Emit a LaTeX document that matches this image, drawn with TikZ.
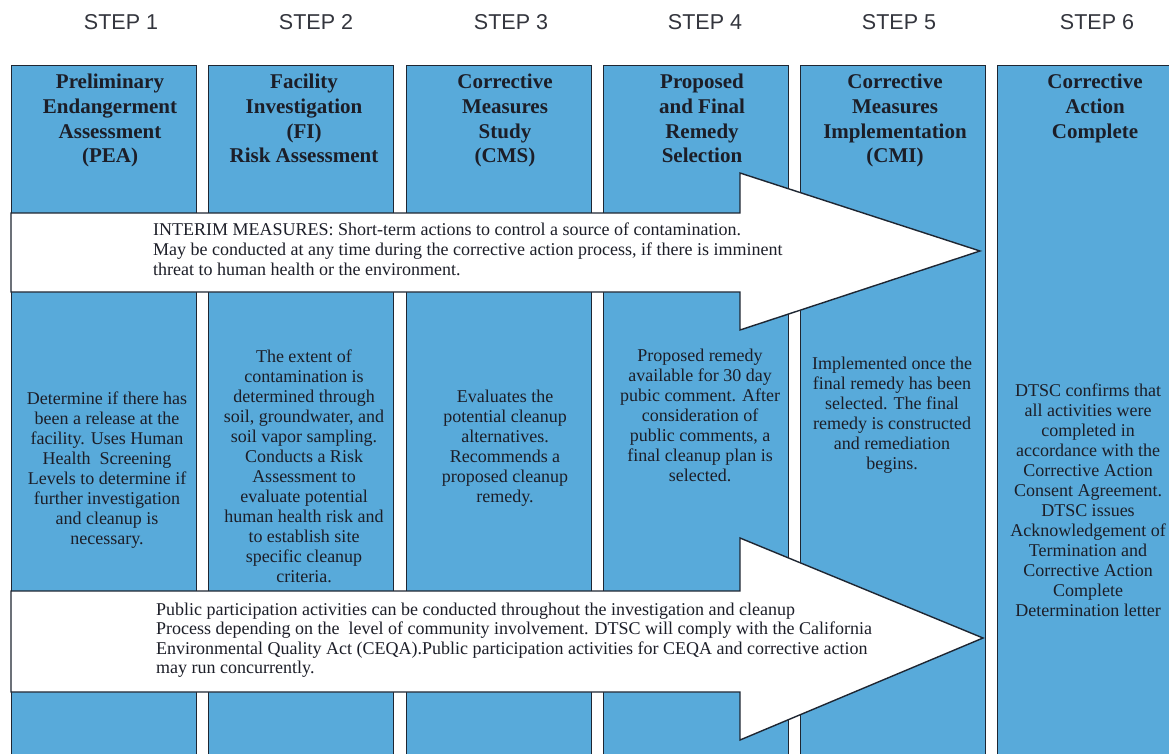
\documentclass[tikz,border=0pt]{standalone}
\usepackage{fontspec}
\setmainfont{Liberation Serif}
\newfontfamily\stepfont{Liberation Sans}
\definecolor{colblue}{RGB}{88,170,218}
\definecolor{edge}{RGB}{30,38,50}
\definecolor{ink}{RGB}{28,30,40}
\tikzset{
  colbox/.style={draw=edge, line width=1.2pt, fill=colblue, minimum width=185pt, minimum height=720pt, anchor=north west, inner sep=0pt},
  steplabel/.style={font=\stepfont\fontsize{21.5}{24}\selectfont, text=ink!90},
  headtext/.style={font=\bfseries\fontsize{21}{24.7}\selectfont, text=ink, align=center, anchor=north, inner sep=0pt},
  bodytext/.style={font=\fontsize{18}{20}\selectfont, text=ink, align=center, anchor=north, inner sep=0pt},
  arrowtext/.style={font=\fontsize{18}{20}\selectfont, text=ink, align=left, anchor=north west, inner sep=0pt},
  bigarrow/.style={draw=edge, line width=1.4pt, fill=white, line join=miter}
}
\begin{document}
\begin{tikzpicture}[x=1pt,y=-1pt]
\useasboundingbox (0,0) rectangle (1169,754);
\fill[white] (0,0) rectangle (1169,754);
\begin{scope}
\clip (0,0) rectangle (1169,754);
% columns
\node[colbox] (c1) at (11,65) {};
\node[colbox] (c2) at (208.25,65) {};
\node[colbox] (c3) at (405.5,65) {};
\node[colbox] (c4) at (602.75,65) {};
\node[colbox] (c5) at (800,65) {};
\node[colbox] (c6) at (997.25,65) {};
\end{scope}

% step labels
\node[steplabel] (s1) at (121,22) {STEP 1};
\node[steplabel] (s2) at (316,22) {STEP 2};
\node[steplabel] (s3) at (511,22) {STEP 3};
\node[steplabel] (s4) at (705,22) {STEP 4};
\node[steplabel] (s5) at (899,22) {STEP 5};
\node[steplabel] (s6) at (1097,22) {STEP 6};

% headings
\node[headtext] (h1) at (110,74) {Preliminary\\Endangerment\\Assessment\\(PEA)};
\node[headtext] (h2) at (304,74) {Facility\\Investigation\\(FI)\\Risk Assessment};
\node[headtext] (h3) at (505,74) {Corrective\\Measures\\Study\\(CMS)};
\node[headtext] (h4) at (702,74) {Proposed\\and Final\\Remedy\\Selection};
\node[headtext] (h5) at (895,74) {Corrective\\Measures\\Implementation\\(CMI)};
\node[headtext] (h6) at (1095,74) {Corrective\\Action\\Complete};

% body texts
\node[bodytext] (b1) at (107,392) {Determine if there has\\been a release at the\\facility. Uses Human\\Health\ \ Screening\\Levels to determine if\\further investigation\\and cleanup is\\necessary.};
\node[bodytext] (b2) at (304,350) {The extent of\\contamination is\\determined through\\soil, groundwater, and\\soil vapor sampling.\\Conducts a Risk\\Assessment to\\evaluate potential\\human health risk and\\to establish site\\specific cleanup\\criteria.};
\node[bodytext] (b3) at (505,390) {Evaluates the\\potential cleanup\\alternatives.\\Recommends a\\proposed cleanup\\remedy.};
\node[bodytext] (b4) at (700,349) {Proposed remedy\\available for 30 day\\pubic comment. After\\consideration of\\public comments, a\\final cleanup plan is\\selected.};
\node[bodytext] (b5) at (892,357) {Implemented once the\\final remedy has been\\selected. The final\\remedy is constructed\\and remediation\\begins.};
\node[bodytext] (b6) at (1088,384) {DTSC confirms that\\all activities were\\completed in\\accordance with the\\Corrective Action\\Consent Agreement.\\DTSC issues\\Acknowledgement of\\Termination and\\Corrective Action\\Complete\\Determination letter};

% arrows
\draw[bigarrow] (11,213) -- (740,213) -- (740,173) -- (980,251) -- (740,330) -- (740,292) -- (11,292) -- cycle;
\draw[bigarrow] (11,591) -- (740,591) -- (740,538) -- (983,638) -- (740,740) -- (740,692) -- (11,692) -- cycle;

\node[arrowtext] (t1) at (153,223) {INTERIM MEASURES: Short-term actions to control a source of contamination.\\May be conducted at any time during the corrective action process, if there is imminent\\threat to human health or the environment.};
\node[arrowtext, font=\fontsize{18}{19.3}\selectfont] (t2) at (156,603) {Public participation activities can be conducted throughout the investigation and cleanup\\Process depending on the\ \ level of community involvement. DTSC will comply with the California\\Environmental Quality Act (CEQA).Public participation activities for CEQA and corrective action\\may run concurrently.};
\end{tikzpicture}
\end{document}
